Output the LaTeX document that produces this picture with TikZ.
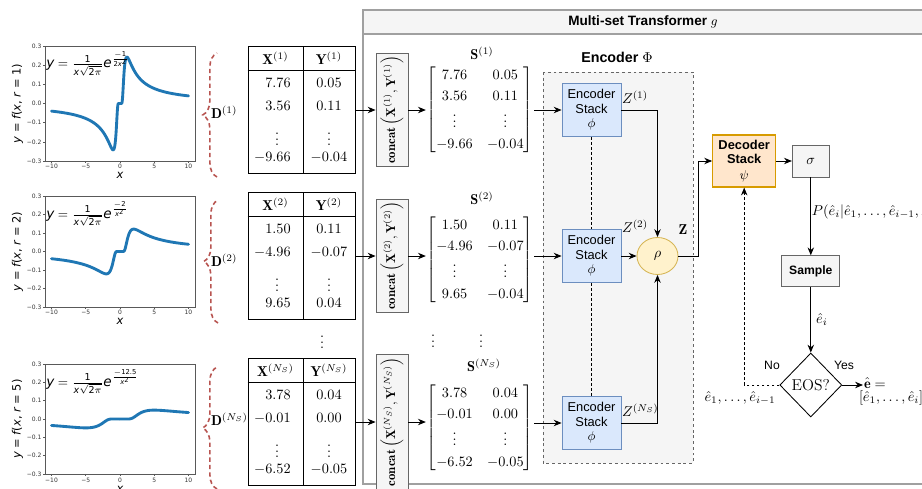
\documentclass[tikz,border=0pt]{standalone}
\usepackage{amsmath}
\usepackage{fontspec}
\setsansfont{Liberation Sans}
\newfontfamily\dejavu{DejaVu Sans}
\usetikzlibrary{arrows.meta,shapes.geometric,decorations.pathreplacing,calc}
\definecolor{mplblue}{HTML}{1F77B4}
\definecolor{braceR}{HTML}{B85450}
\definecolor{gfill}{HTML}{F5F5F5}
\definecolor{gline}{HTML}{666666}
\definecolor{panelline}{HTML}{A0A0A0}
\definecolor{encF}{HTML}{DAE8FC}
\definecolor{encL}{HTML}{6C8EBF}
\definecolor{decF}{HTML}{FFE6CC}
\definecolor{decL}{HTML}{D79B00}
\definecolor{rhoF}{HTML}{FFF2CC}
\definecolor{rhoL}{HTML}{D6B656}
\newcommand\dvi[1]{\text{\dejavu\itshape #1}}
\newcommand\dvu[1]{\text{\dejavu #1}}
% matplotlib-like panel
\newcommand\mplpanel[7]{%
  \draw[spine] (45,{#1-3*#2}) rectangle (195,{#1+3*#2});
  \foreach \k/\l in {3/0.3,2/0.2,1/0.1,0/0.0,-1/−0.1,-2/−0.2,-3/−0.3}{
    \draw[spine] (45,{#1-(\k)*#2}) -- ++(-2.2,0);
    \node[ticklbl,anchor=east] at (42.5,{#1-(\k)*#2}) {\l};
  }
  \foreach \v/\l in {-10/−10,-5/−5,0/0,5/5,10/10}{
    \draw[spine] ({120+(\v)*6.85},{#1+3*#2}) -- ++(0,2.2);
    \node[ticklbl] at ({120+(\v)*6.85},#6) {\l};
  }
  \begin{scope}[shift={(120,#1)}, x=4.795pt, y={#2*7pt}]
    \draw[curve] plot[domain=-10:-0.12,samples=150] (\x,{ff(\x,#3)})
      -- plot[domain=0.12:10,samples=150] (\x,{ff(\x,#3)});
  \end{scope}
  \node[axlbl, rotate=90] at (17.5,#1) {{\itshape y} = {\itshape f}({\itshape x}, {\itshape r} = #5)};
  \node[axlbl] at (120,#7) {\itshape x};
  \node[anchor=west, font=\dejavu\fontsize{9.5}{10}\selectfont, inner sep=0pt] at (46,{#1-3*#2+18})
    {$\dvi{y} = \frac{\dvu{1}}{\dvi{x}\sqrt{\dvu{2}\pi}}\dvi{e}^{#4}$};
}
% data table
\newcommand\datatable[9]{%
  \node[tabbox] (tab#1) at (301.5,#2) {};
  \draw[line width=0.6pt] ([yshift=-16.8pt]tab#1.north west) -- ([yshift=-16.8pt]tab#1.north east);
  \draw[line width=0.6pt] ([xshift=1.05pt]tab#1.north) -- ([xshift=1.05pt]tab#1.south);
  \node[cell] (tab#1hx) at (275.5,{#2-52}) {$\mathbf{X}^{(#3)}$};
  \node[cell] (tab#1hy) at (329,{#2-52}) {$\mathbf{Y}^{(#3)}$};
  \node[cell,anchor=east] (tab#1a) at (291,{#2-27}) {$#4$};
  \node[cell] (tab#1b) at (329,{#2-27}) {$#5$};
  \node[cell,anchor=east] (tab#1c) at (291,{#2-4}) {$#6$};
  \node[cell] (tab#1d) at (329,{#2-4}) {$#7$};
  \node[cell] (tab#1e) at (277,{#2+25}) {$\vdots$};
  \node[cell] (tab#1f) at (329,{#2+25}) {$\vdots$};
  \node[cell,anchor=east] (tab#1g) at (291,{#2+47}) {$#8$};
  \node[cell] (tab#1h) at (329,{#2+47}) {$#9$};
}
\begin{document}
\begin{tikzpicture}[x=0.7pt,y=-0.7pt,
  declare function={ff(\t,\c)=exp(max(-\c/(\t*\t),-9))/(\t*2.5066);},
  arr/.style={-{Stealth[length=5.5pt,width=4.5pt]}, line width=0.6pt},
  dasharr/.style={arr, dash pattern=on 2pt off 1.5pt},
  gbox/.style={draw=gline, fill=gfill, line width=0.6pt, inner sep=0pt},
  encbox/.style={draw=encL, fill=encF, line width=0.6pt, minimum width=41.3pt, minimum height=37.1pt,
    inner sep=0pt, align=center, font=\sffamily\fontsize{9}{10.2}\selectfont},
  decbox/.style={draw=decL, fill=decF, line width=0.8pt, minimum width=44.1pt, minimum height=36.4pt,
    inner sep=0pt, align=center, font=\sffamily\bfseries\fontsize{9}{10.2}\selectfont},
  rhonode/.style={ellipse, draw=rhoL, fill=rhoF, line width=0.6pt, minimum width=28.7pt,
    minimum height=25.9pt, inner sep=0pt},
  tabbox/.style={draw, line width=0.6pt, minimum width=74.9pt, minimum height=88.9pt, inner sep=0pt},
  cell/.style={inner sep=0pt, font=\fontsize{10}{12}\selectfont},
  catbox/.style={gbox, rotate=90, minimum height=22.4pt, inner xsep=2pt, font=\fontsize{9}{11}\selectfont},
  matnode/.style={inner sep=0.5pt, font=\fontsize{10}{12}\selectfont},
  bracestyle/.style={draw=braceR, line width=1.1pt, dash pattern=on 3pt off 2.2pt, decorate,
    decoration={brace, amplitude=10pt}},
  spine/.style={draw=black!65, line width=0.45pt},
  ticklbl/.style={font=\dejavu\fontsize{4.2}{5}\selectfont, inner sep=0.6pt, text=black!80},
  axlbl/.style={font=\dejavu\fontsize{8}{9}\selectfont, inner sep=0pt},
  curve/.style={draw=mplblue, line width=2pt, line cap=round, line join=round},
  sflbl/.style={font=\sffamily\fontsize{8.5}{10}\selectfont, inner sep=0.5pt},
  mlbl/.style={inner sep=0.5pt, font=\fontsize{10}{12}\selectfont},
  dotline/.style={line width=0.6pt, dash pattern=on 2pt off 1.5pt}
]
\useasboundingbox (0,0) rectangle (922,489);
\fill[white] (0,0) rectangle (922,489);

% ---------- plots ----------
\mplpanel{103.5}{19.17}{0.5}{\frac{-\dvu{1}}{\dvu{2}\dvi{x}^{\dvu{2}}}}{1}{166}{175.5}
\mplpanel{251.5}{18.5}{2}{\frac{-\dvu{2}}{\dvi{x}^{\dvu{2}}}}{2}{312.5}{321.5}
\mplpanel{419}{18.33}{12.5}{\frac{-\dvu{12.5}}{\dvi{x}^{\dvu{2}}}}{5}{480}{489}

% ---------- braces and D labels ----------
\draw[bracestyle] (217,177) -- (217,53);
\draw[bracestyle] (218,323) -- (218,200);
\draw[bracestyle] (217,489) -- (217,367);
\node[mlbl,anchor=west] (d1) at (210,112) {$\mathbf{D}^{(1)}$};
\node[mlbl,anchor=west] (d2) at (210,260) {$\mathbf{D}^{(2)}$};
\node[mlbl,anchor=west] (d3) at (210,419) {$\mathbf{D}^{(N_S)}$};

% ---------- tables ----------
\datatable{1}{110}{1}{7.76}{0.05}{3.56}{0.11}{-9.66}{-0.04}
\datatable{2}{256}{2}{1.50}{0.11}{-4.96}{-0.07}{9.65}{0.04}
\datatable{3}{422}{N_S}{3.78}{0.04}{-0.01}{0.00}{-6.52}{-0.05}
\node[mlbl] (vd1) at (322,338) {$\vdots$};

% ---------- transformer panel ----------
\draw[panelline, line width=1pt, fill=white] (363,10) rectangle (926,484);
\draw[panelline, line width=1pt, fill=gfill] (363,10) rectangle (926,34);
\node[font=\sffamily\bfseries\fontsize{9.5}{11}\selectfont] (title) at (643,22) {Multi-set Transformer $g$};

\draw[gline, line width=0.6pt, dash pattern=on 2pt off 2pt, fill=gfill] (543,72) rectangle (693,463);
\node[font=\sffamily\bfseries\fontsize{10}{12}\selectfont] (enctitle) at (617,57) {Encoder $\Phi$};

% concat boxes
\node[catbox] (cat1) at (392,110) {$\mathbf{concat}\left(\mathbf{X}^{(1)},\mathbf{Y}^{(1)}\right)$};
\node[catbox] (cat2) at (392,256) {$\mathbf{concat}\left(\mathbf{X}^{(2)},\mathbf{Y}^{(2)}\right)$};
\node[catbox] (cat3) at (392,422) {$\mathbf{concat}\left(\mathbf{X}^{(N_S)},\mathbf{Y}^{(N_S)}\right)$};

% matrices
\node[matnode] (mat1) at (480,110) {\renewcommand\arraystretch{1.2}$\begin{bmatrix}7.76 & 0.05\\ 3.56 & 0.11\\ \vdots & \vdots\\ -9.66 & -0.04\end{bmatrix}$};
\node[matnode] (mat2) at (480,260) {\renewcommand\arraystretch{1.2}$\begin{bmatrix}1.50 & 0.11\\ -4.96 & -0.07\\ \vdots & \vdots\\ 9.65 & -0.04\end{bmatrix}$};
\node[matnode] (mat3) at (480,428) {\renewcommand\arraystretch{1.2}$\begin{bmatrix}3.78 & 0.04\\ -0.01 & 0.00\\ \vdots & \vdots\\ -6.52 & -0.05\end{bmatrix}$};
\node[mlbl] (s1) at (482,53) {$\mathbf{S}^{(1)}$};
\node[mlbl] (s2) at (482,198) {$\mathbf{S}^{(2)}$};
\node[mlbl] (s3) at (484,365) {$\mathbf{S}^{(N_S)}$};
\node[mlbl] (vd2) at (433,337) {$\vdots$};
\node[mlbl] (vd3) at (481,337) {$\vdots$};

% encoders
\node[encbox] (enc1) at (591.5,110) {Encoder\\Stack\\$\phi$};
\node[encbox] (enc2) at (591.5,256) {Encoder\\Stack\\$\phi$};
\node[encbox] (enc3) at (591.5,423) {Encoder\\Stack\\$\phi$};
\draw[dotline] (enc1.south) -- (enc2.north);
\draw[dotline] (enc2.south) -- (enc3.north);
\node[rhonode] (rho) at (657.5,256) {$\rho$};

% row connectors
\draw[arr] (tab1) -- (cat1);
\draw[arr] (tab2) -- (cat2);
\draw[arr] (tab3) -- (cat3);
\draw[arr] (cat1) -- (cat1 -| mat1.west);
\draw[arr] (cat2) -- (cat2 -| mat2.west);
\draw[arr] (cat3) -- (cat3 -| mat3.west);
\draw[arr] (mat1.east |- enc1) -- (enc1.west);
\draw[arr] (mat2.east |- enc2) -- (enc2.west);
\draw[arr] (mat3.east |- enc3) -- (enc3.west);

\draw[arr] (enc1.east) -| (rho.north);
\draw[arr] (enc2.east) -- (rho.west);
\draw[arr] (enc3.east) -| (rho.south);
\node[mlbl,anchor=west] (z1) at (621,97) {$Z^{(1)}$};
\node[mlbl,anchor=west] (z2) at (621,226) {$Z^{(2)}$};
\node[mlbl,anchor=west] (z3) at (621,410) {$Z^{(N_S)}$};

% decoder side
\node[decbox] (dec) at (744.2,161) {Decoder\\Stack\\[1pt]\mdseries$\psi$};
\coordinate (zb) at (698,256);
\draw[arr] (rho.east) -- (zb) |- (dec.west);
\node[mlbl] (zl) at (683,230) {$\mathbf{Z}$};

\node[gbox, minimum width=25.9pt, minimum height=22.4pt] (sig) at (810.8,161) {$\sigma$};
\draw[arr] (dec.east) -- (sig.west);
\node[gbox, minimum width=40.6pt, minimum height=21.7pt, font=\sffamily\bfseries\fontsize{8.5}{10}\selectfont] (samp) at (810.8,271.2) {Sample};
\draw[arr] (sig.south) -- (samp.north) node[pos=0.44, anchor=west, mlbl] (pl) {$P(\hat{e}_i|\hat{e}_1,\ldots,\hat{e}_{i-1},\mathbf{Z})$};

\node[diamond, draw, line width=0.6pt, fill=white, minimum width=43.4pt, minimum height=44.8pt, inner sep=0pt,
  font=\fontsize{11}{13}\selectfont] (eos) at (810.8,385) {EOS?};
\draw[arr] (samp.south) -- (eos.north) node[midway, right, mlbl, xshift=3pt] (ei) {$\hat{e}_i$};
\node[sflbl] (no) at (772,365) {No};
\node[sflbl] (yes) at (844,365) {Yes};

\node[mlbl, anchor=west] (ehat) at (863,383) {$\hat{\mathbf{e}} =$};
\node[mlbl, anchor=west] (elist) at (858,398) {$[\hat{e}_1,\ldots,\hat{e}_i]$};
\draw[arr] (eos.east) -- (eos.east -| ehat.west);

\draw[dasharr] (eos.west) -| (dec.south);
\node[mlbl] (prev) at (740,398) {$\hat{e}_1,\ldots,\hat{e}_{i-1}$};
\end{tikzpicture}
\end{document}
